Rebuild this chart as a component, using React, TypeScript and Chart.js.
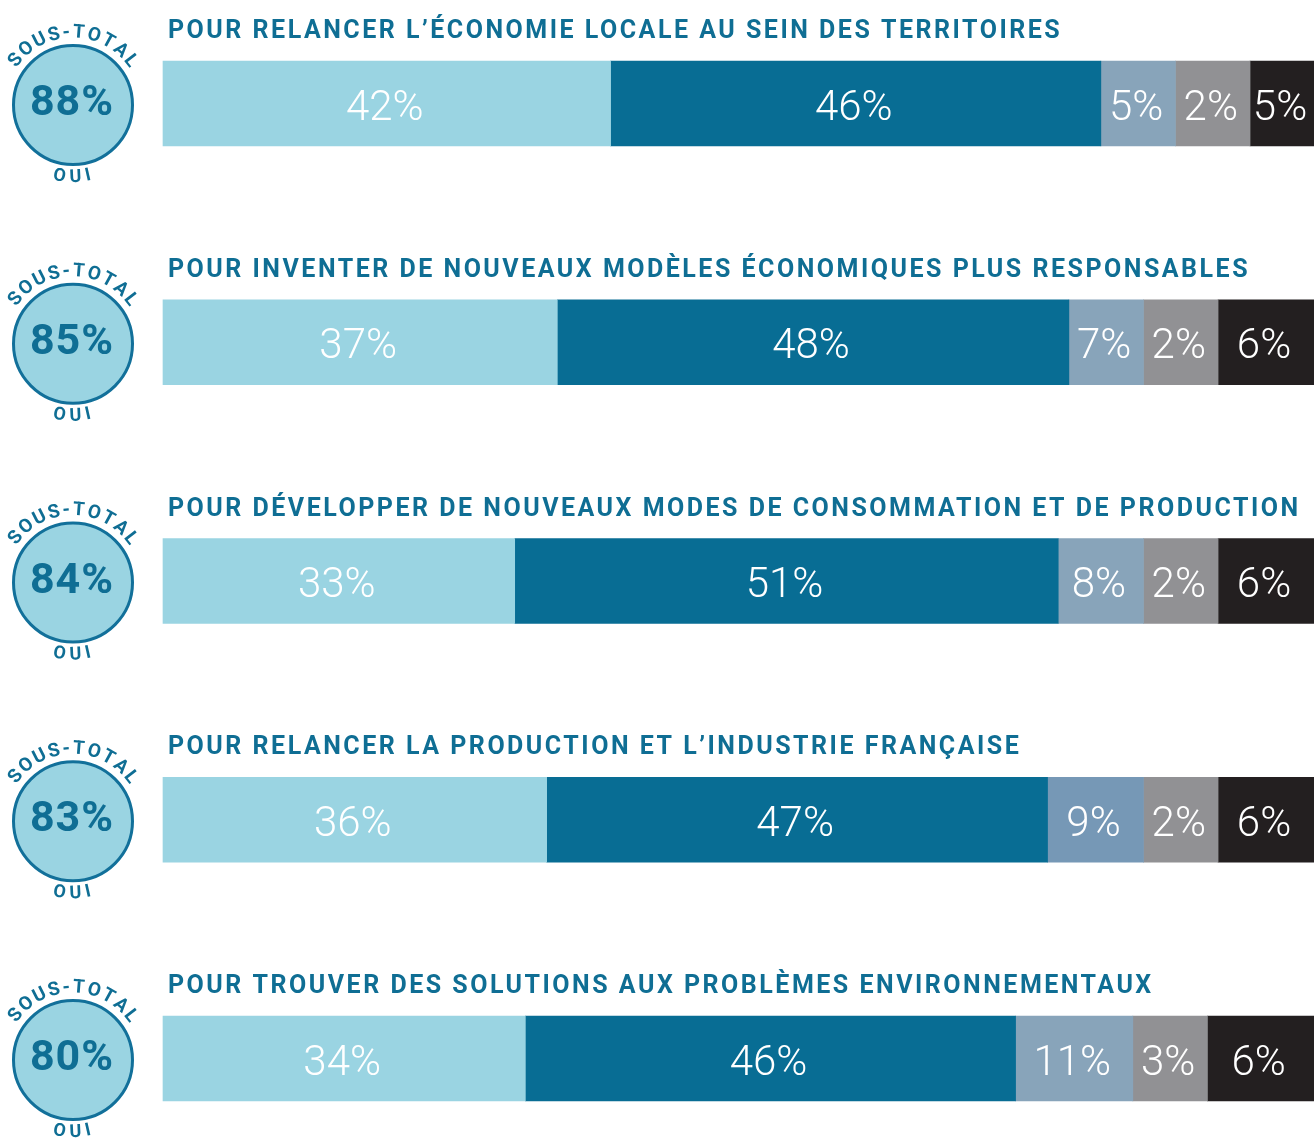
import { useEffect, useRef } from "react";
import { Chart, registerables } from "chart.js";

Chart.register(...registerables);

// ---------- data ----------
const QUESTIONS = [
  "POUR RELANCER L’ÉCONOMIE LOCALE AU SEIN DES TERRITOIRES",
  "POUR INVENTER DE NOUVEAUX MODÈLES ÉCONOMIQUES PLUS RESPONSABLES",
  "POUR DÉVELOPPER DE NOUVEAUX MODES DE CONSOMMATION ET DE PRODUCTION",
  "POUR RELANCER LA PRODUCTION ET L’INDUSTRIE FRANÇAISE",
  "POUR TROUVER DES SOLUTIONS AUX PROBLÈMES ENVIRONNEMENTAUX",
];
const SERIES = ["Oui, tout à fait", "Oui, plutôt", "Non, plutôt pas", "Non, pas du tout", "Ne se prononce pas"];
const TOUT_A_FAIT = [42, 37, 33, 36, 34];
const PLUTOT = [46, 48, 51, 47, 46];
const PLUTOT_PAS = [5, 7, 8, 9, 11];
const PAS_DU_TOUT = [2, 2, 2, 2, 3];
const NSP = [5, 6, 6, 6, 6];
const SOUS_TOTAL_OUI = [88, 85, 84, 83, 80];
const SERIES_VALUES = [TOUT_A_FAIT, PLUTOT, PLUTOT_PAS, PAS_DU_TOUT, NSP];

// ---------- style ----------
const SERIES_COLORS = [
  "#9AD4E2",
  "#086D94",
  ["#88A4BA", "#88A4BA", "#88A4BA", "#7698B6", "#88A4BA"],
  "#919194",
  "#231F20",
];
const TEAL = "#0F6E94";
// the reference widens very small segments so their label fits,
// and its last segment runs off the right edge of the picture
const MIN_SHARE = [0, 0, 7, 7, 12];
const X_MAX = 108;

function drawTopArcText(ctx: CanvasRenderingContext2D, text: string, cx: number, cy: number, r: number, spacing: number) {
  const chars = Array.from(text);
  const widths = chars.map((c) => ctx.measureText(c).width);
  const total = widths.reduce((a, b) => a + b, 0) + spacing * (chars.length - 1);
  let s = -total / 2;
  chars.forEach((c, k) => {
    const mid = s + widths[k] / 2;
    const a = mid / r;
    ctx.save();
    ctx.translate(cx, cy);
    ctx.rotate(a);
    ctx.fillText(c, 0, -r);
    ctx.restore();
    s += widths[k] + spacing;
  });
}

function drawBottomArcText(ctx: CanvasRenderingContext2D, text: string, cx: number, cy: number, r: number, spacing: number) {
  const chars = Array.from(text);
  const widths = chars.map((c) => ctx.measureText(c).width);
  const total = widths.reduce((a, b) => a + b, 0) + spacing * (chars.length - 1);
  let s = -total / 2;
  chars.forEach((c, k) => {
    const mid = s + widths[k] / 2;
    const a = mid / r;
    ctx.save();
    ctx.translate(cx + r * Math.sin(a), cy + r * Math.cos(a));
    ctx.rotate(-a);
    ctx.fillText(c, 0, 0);
    ctx.restore();
    s += widths[k] + spacing;
  });
}

const overlayPlugin = {
  id: "overlay",
  afterDatasetsDraw(chart: any) {
    const ctx: CanvasRenderingContext2D = chart.ctx;
    const area = chart.chartArea;
    const yScale = chart.scales.y;

    // segment labels
    ctx.save();
    ctx.fillStyle = "#FFFFFF";
    ctx.font = "300 42px Roboto, 'Noto Sans', sans-serif";
    ctx.textAlign = "center";
    ctx.textBaseline = "alphabetic";
    chart.data.datasets.forEach((_ds: any, i: number) => {
      const meta = chart.getDatasetMeta(i);
      meta.data.forEach((bar: any, j: number) => {
        const { x, base, y } = bar.getProps(["x", "base", "y"], true);
        const left = Math.max(Math.min(x, base), area.left);
        const right = Math.min(Math.max(x, base), area.right);
        ctx.fillText(`${SERIES_VALUES[i][j]}%`, (left + right) / 2 - 2, y + 16);
      });
    });
    ctx.restore();

    QUESTIONS.forEach((q, j) => {
      const yc = yScale.getPixelForValue(j);

      // question title
      ctx.save();
      ctx.fillStyle = TEAL;
      ctx.font = "700 25px Roboto, 'Noto Sans', sans-serif";
      (ctx as any).letterSpacing = "2.5px";
      ctx.textAlign = "left";
      ctx.textBaseline = "alphabetic";
      ctx.fillText(q, area.left + 5, yc - 65.5);
      ctx.restore();

      // sub-total badge
      const cx = 73;
      const cy = yc + 1.5;
      ctx.save();
      ctx.beginPath();
      ctx.arc(cx, cy, 59.5, 0, Math.PI * 2);
      ctx.fillStyle = "#9AD4E2";
      ctx.fill();
      ctx.lineWidth = 3;
      ctx.strokeStyle = "#12709A";
      ctx.stroke();

      ctx.fillStyle = TEAL;
      ctx.textAlign = "center";
      ctx.textBaseline = "alphabetic";
      ctx.font = "700 43px Roboto, 'Noto Sans', sans-serif";
      (ctx as any).letterSpacing = "1px";
      ctx.fillText(`${SOUS_TOTAL_OUI[j]}%`, cx - 1, cy + 10);
      (ctx as any).letterSpacing = "0px";

      ctx.font = "700 19px Roboto, 'Noto Sans', sans-serif";
      drawTopArcText(ctx, "SOUS-TOTAL", cx, cy, 67.5, 2);
      ctx.font = "700 18px Roboto, 'Noto Sans', sans-serif";
      drawBottomArcText(ctx, "OUI", cx - 1, cy, 77, 5);
      ctx.restore();
    });
  },
};

export default function App() {
  const canvasRef = useRef<HTMLCanvasElement | null>(null);

  useEffect(() => {
    const canvas = canvasRef.current;
    if (!canvas) return;
    const chart = new Chart(canvas, {
      type: "bar",
      data: {
        labels: QUESTIONS,
        datasets: SERIES.map((name, i) => ({
          label: name,
          data: SERIES_VALUES[i].map((v) => Math.max(v, MIN_SHARE[i])),
          backgroundColor: SERIES_COLORS[i] as any,
          borderWidth: 0,
          barThickness: 85,
          clip: false as any,
        })),
      },
      options: {
        indexAxis: "y",
        responsive: false,
        animation: false,
        devicePixelRatio: 1,
        layout: { padding: { left: 163, right: 0, top: 103.5, bottom: 81.5 } },
        scales: {
          x: { stacked: true, min: 0, max: X_MAX, display: false },
          y: { stacked: true, offset: false, display: false },
        },
        plugins: {
          legend: { display: false },
          tooltip: { enabled: false },
        },
      },
      plugins: [overlayPlugin],
    });
    return () => chart.destroy();
  }, []);

  return (
    <div style={{ position: "absolute", left: 0, top: 0, width: 1314, height: 1140, background: "#FFFFFF" }}>
      <canvas ref={canvasRef} width={1314} height={1140} style={{ display: "block" }} />
    </div>
  );
}
